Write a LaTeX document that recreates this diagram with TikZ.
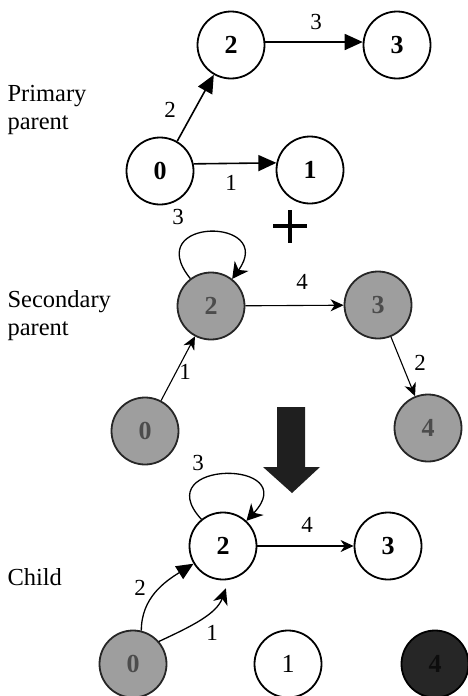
\documentclass[tikz,border=0pt]{standalone}
\usepackage{fontspec}
\setmainfont{Liberation Serif}
\usetikzlibrary{arrows.meta}
\begin{document}
\begin{tikzpicture}[x=1pt,y=-1pt,
  nd/.style={circle,draw=black,line width=1.8pt,minimum size=67pt,inner sep=0pt,font=\fontsize{26}{26}\selectfont\bfseries},
  gnd/.style={nd,fill=black!38,draw=black!85,font=\fontsize{26}{26}\selectfont\bfseries,text=black!70},
  dnd/.style={nd,fill=black!85,draw=black,text=black!95},
  elab/.style={font=\fontsize{23}{23}\selectfont},
  side/.style={font=\fontsize{24.5}{28}\selectfont,align=left,anchor=west},
  parr/.style={line width=1.6pt,-{Triangle[length=18pt,width=16pt]}},
  sarr/.style={line width=1.1pt,-{Stealth[length=13pt,width=12pt,inset=4pt]}},
  larr/.style={line width=1.3pt,-{Stealth[length=16pt,width=17pt,inset=5pt]}}]
\useasboundingbox (0,0) rectangle (467,696);
% side labels
\node[side] (tp) at (4,110) {Primary\\parent};
\node[side] (ts) at (4,316) {Secondary\\parent};
\node[side] (tc) at (4,577) {Child};
% primary parent
\node[nd] (p2) at (231,45) {2};
\node[nd] (p3) at (397,45) {3};
\node[nd] (p0) at (160,171) {0};
\node[nd] (p1) at (310,170) {1};
\draw[parr] (p0.60) -- (p2.240);
\draw[parr] (p0.12) -- (p1.168);
\draw[parr] (p2.5) -- (p3.175);
\node[elab] (lp2) at (170,110) {2};
\node[elab] (lp3) at (316,22) {3};
\node[elab] (lp1) at (231,183) {1};
% plus
\draw[line width=3.2pt] (273,226) -- (307,226);
\draw[line width=3.2pt] (290,210) -- (290,243);
% secondary parent
\node[gnd] (s2) at (211,306) {2};
\node[gnd] (s3) at (378,305) {3};
\node[gnd] (s0) at (145,431) {0};
\node[gnd] (s4) at (428,428) {4};
\draw[sarr] (s2) -- (s3);
\draw[sarr] (s0) -- (s2);
\draw[sarr] (s3) -- (s4);
\draw[larr] (s2.127) .. controls +(-50,-62) and +(45,-62) .. (s2.52);
\node[elab] (ls3) at (178,217) {3};
\node[elab] (ls4) at (302,282) {4};
\node[elab] (ls1) at (185,372) {1};
\node[elab] (ls2) at (420,363) {2};
% big arrow
\fill[black!88] (277,407) -- (305,407) -- (305,467) -- (320,467) -- (292,493) -- (263,467) -- (277,467) -- cycle;
% child
\node[nd] (c2) at (223,546) {2};
\node[nd] (c3) at (388,546) {3};
\node[gnd] (c0) at (133,664) {0};
\node[nd,font=\fontsize{26}{26}\selectfont] (c1) at (288,664) {1};
\node[dnd] (c4) at (435,664) {4};
\draw[sarr] (c2) -- (c3);
\draw[larr] (c2.129) .. controls +(-55,-60) and +(58,-62) .. (c2.47);
\draw[line width=1.3pt,-{Triangle[length=17pt,width=15pt]}] (c0.76) to[out=90,in=212] (c2.211);
\draw[line width=1.3pt,-{Stealth[length=16pt,width=15pt,inset=5pt]},shorten >=9pt] (c0.41) to[out=25,in=250] (c2.280);
\node[elab] (lc3) at (198,463) {3};
\node[elab] (lc4) at (307,525) {4};
\node[elab] (lc2) at (140,588) {2};
\node[elab] (lc1) at (212,633) {1};
\end{tikzpicture}
\end{document}
